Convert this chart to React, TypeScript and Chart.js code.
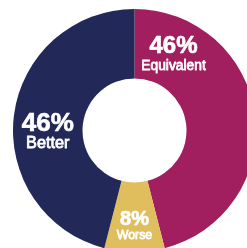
import React, { useEffect, useRef } from "react";
import { Chart, registerables } from "chart.js";

Chart.register(...registerables);

const categories = ["Equivalent", "Worse", "Better"];
const values = [46, 8, 46];
const valueLabels = ["46%", "8%", "46%"];
const colors = ["#A11F5F", "#E0BE5E", "#222959"];

// label placement: angle (deg clockwise from top) and radial fraction across the ring
const labelAngles = [27.2, 180, 269];
const labelRadial = [0.48, 0.63, 0.5];
const numberSizes = [24, 20, 26];
const nameSizes = [15, 13, 17];
const nameScaleX = [0.92, 0.95, 0.96];
const lineHalfGap = [10.4, 8.5, 10];

const labelPlugin = {
  id: "ringLabels",
  afterDatasetsDraw(chart: any) {
    const meta = chart.getDatasetMeta(0);
    const ctx = chart.ctx;
    ctx.save();
    ctx.fillStyle = "#ffffff";
    ctx.strokeStyle = "#ffffff";
    ctx.lineJoin = "round";
    ctx.textAlign = "center";
    ctx.textBaseline = "alphabetic";
    meta.data.forEach((arc: any, i: number) => {
      const { x, y, innerRadius, outerRadius } = arc.getProps(
        ["x", "y", "innerRadius", "outerRadius"],
        true
      );
      const r = innerRadius + (outerRadius - innerRadius) * labelRadial[i];
      const a = (labelAngles[i] * Math.PI) / 180;
      const cx = x + r * Math.sin(a);
      const cy = y - r * Math.cos(a);
      const ns = numberSizes[i];
      ctx.font = `bold ${ns}px 'Liberation Sans', Arial, sans-serif`;
      const nb = cy - lineHalfGap[i] + 0.358 * ns;
      ctx.lineWidth = 0.7;
      ctx.fillText(valueLabels[i], cx, nb);
      ctx.strokeText(valueLabels[i], cx, nb);
      const ls = nameSizes[i];
      ctx.font = `${ls}px 'Liberation Sans', Arial, sans-serif`;
      const lb = cy + lineHalfGap[i] + 0.358 * ls;
      ctx.save();
      ctx.translate(cx, lb);
      ctx.scale(nameScaleX[i], 1);
      ctx.lineWidth = 0.8;
      ctx.fillText(categories[i], 0, 0);
      ctx.strokeText(categories[i], 0, 0);
      ctx.restore();
    });
    ctx.restore();
  },
};

export default function App() {
  const ref = useRef<HTMLCanvasElement>(null);
  useEffect(() => {
    if (!ref.current) return;
    const chart = new Chart(ref.current, {
      type: "doughnut",
      data: {
        labels: categories,
        datasets: [
          {
            data: values,
            backgroundColor: colors,
            borderWidth: 0,
          },
        ],
      },
      options: {
        responsive: true,
        maintainAspectRatio: false,
        animation: false,
        cutout: "42.8%",
        layout: { padding: 0 },
        plugins: {
          legend: { display: false },
          tooltip: { enabled: false },
        },
      },
      plugins: [labelPlugin],
    });
    return () => chart.destroy();
  }, []);
  return (
    <div
      style={{
        position: "fixed",
        left: 0,
        top: 0,
        width: 247,
        height: 248,
        overflow: "hidden",
        background: "#ffffff",
      }}
    >
      <div style={{ position: "absolute", left: 13, top: 9, width: 243, height: 243 }}>
        <canvas ref={ref} />
      </div>
    </div>
  );
}
